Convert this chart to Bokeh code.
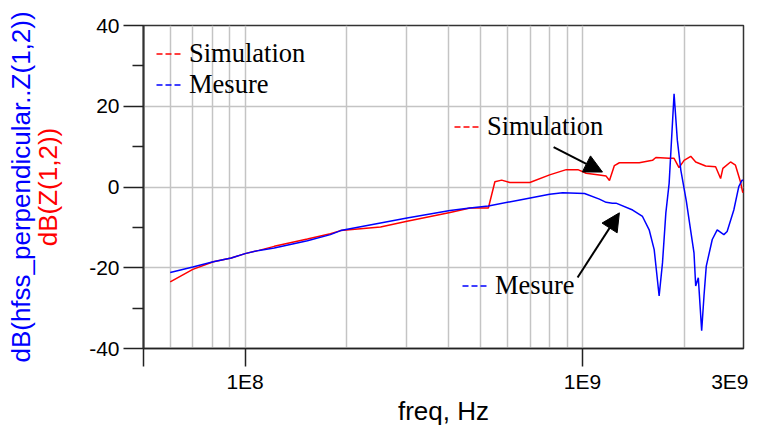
from bokeh.plotting import figure
from bokeh.models import (FixedTicker, LinearAxis, Legend, LegendItem, Arrow,
                          NormalHead, Range1d)
from bokeh.embed import file_html
from bokeh.resources import INLINE

# ---------------- data ----------------
sim_freq = [6.0e7, 7.0e7, 8.05e7, 9.1e7, 1.0e8, 1.1e8, 1.22e8, 1.53e8, 1.79e8, 1.92e8,
            2.52e8, 3.02e8, 4.05e8, 4.64e8, 5.26e8, 5.50e8, 5.76e8, 6.09e8, 6.98e8, 7.99e8,
            8.95e8, 9.69e8, 1.025e9, 1.122e9, 1.175e9, 1.202e9, 1.243e9, 1.286e9, 1.473e9, 1.612e9,
            1.65e9, 1.806e9, 1.868e9, 1.932e9, 2.0e9, 2.093e9, 2.165e9, 2.317e9, 2.48e9, 2.566e9,
            2.606e9, 2.746e9, 2.84e9, 2.938e9, 2.985e9, 3.0e9]
sim_db = [-23.5, -20.4, -18.5, -17.6, -16.5, -15.7, -14.7, -12.9, -11.6, -10.8,
          -9.9, -8.5, -6.3, -5.2, -5.2, 1.3, 1.7, 1.1, 1.1, 3.0,
          4.3, 4.3, 3.4, 3.0, 2.7, 1.6, 5.3, 6.0, 6.0, 6.6,
          7.3, 7.1, 7.1, 4.8, 6.6, 7.6, 6.2, 5.2, 5.0, 2.1,
          4.6, 6.2, 5.4, 1.3, -1.4, -1.0]

mes_freq = [6.0e7, 7.0e7, 8.05e7, 9.1e7, 1.0e8, 1.1e8, 1.22e8, 1.53e8, 1.79e8, 1.92e8,
            2.52e8, 3.02e8, 4.05e8, 4.64e8, 5.26e8, 6.52e8, 7.99e8, 8.73e8, 1.014e9, 1.122e9,
            1.175e9, 1.226e9, 1.257e9, 1.408e9, 1.506e9, 1.576e9, 1.631e9, 1.687e9, 1.726e9, 1.766e9,
            1.806e9, 1.868e9, 1.91e9, 1.956e9, 2.031e9, 2.069e9, 2.14e9, 2.165e9, 2.204e9, 2.255e9,
            2.291e9, 2.327e9, 2.424e9, 2.507e9, 2.624e9, 2.683e9, 2.808e9, 2.905e9, 2.971e9, 3.0e9]
mes_db = [-21.2, -19.8, -18.5, -17.6, -16.5, -15.7, -15.1, -13.3, -11.8, -10.8,
          -8.9, -7.7, -5.8, -5.2, -4.7, -3.2, -1.8, -1.4, -1.6, -3.0,
          -3.8, -4.0, -4.0, -5.7, -7.3, -10.6, -15.5, -27.0, -18.8, -6.4,
          0.9, 23.1, 11.6, 4.2, -3.5, -8.1, -16.3, -24.5, -22.5, -35.6,
          -27.0, -19.6, -13.0, -10.6, -11.8, -11.0, -5.7, 0.1, 1.7, 1.7]

x_range_lim = [5e7, 3e9]
y_range_lim = [-40, 40]
x_label_ticks = [1e8, 1e9, 3e9]
x_tick_labels = {1e8: "1E8", 1e9: "1E9", 3e9: "3E9"}
x_tick_marks = [5e7, 1e8, 1e9]
x_grid = [6e7, 7e7, 8e7, 9e7, 1e8, 2e8, 3e8, 4e8, 5e8, 6e8, 7e8, 8e8, 9e8, 1e9, 2e9]
y_ticks = [-40, -20, 0, 20, 40]
y_tick_labels = {-40: "-40", -20: "-20", 0: "0", 20: "20", 40: "40"}
y_minor = [-30, -10, 10, 30]
y_grid = [-20, 0, 20]

x_title = "freq, Hz"
y_title_red = "dB(Z(1,2))"
y_title_blue = "dB(hfss_perpendicular..Z(1,2))"

sim_name = "Simulation"
mes_name = "Mesure"
# annotation arrows (start -> tip), data units
sim_arrow = [8.21e8, 9.85, 1.146e9, 3.7]
mes_arrow = [9.67e8, -22.4, 1.286e9, -6.4]

SANS = "Liberation Sans"
SERIF = "Liberation Serif"
RED = "#ff0000"
BLUE = "#0000ff"
NAN = float("nan")

p = figure(width=748, height=428, x_axis_type="log",
           x_range=Range1d(*x_range_lim), y_range=Range1d(*y_range_lim),
           output_backend="svg", toolbar_location=None,
           min_border_left=143, min_border_right=5, min_border_top=25, min_border_bottom=78)

p.background_fill_color = "white"
p.border_fill_color = "white"
p.outline_line_color = "#333333"
p.outline_line_width = 1.5

# grids
p.xgrid.ticker = FixedTicker(ticks=x_grid)
p.xgrid.grid_line_color = "#c4c4c4"
p.xgrid.grid_line_width = 1.5
p.ygrid.ticker = FixedTicker(ticks=y_grid)
p.ygrid.grid_line_color = "#c4c4c4"
p.ygrid.grid_line_width = 1.5

# x axis: labels on major ticks (no marks), tick marks drawn as minor ticks
xa = p.xaxis[0]
xa.ticker = FixedTicker(ticks=x_label_ticks, minor_ticks=x_tick_marks)
xa.major_label_overrides = x_tick_labels
xa.major_tick_out = 0
xa.major_tick_in = 0
xa.minor_tick_out = 18
xa.minor_tick_in = 0
xa.minor_tick_line_color = "#222222"
xa.minor_tick_line_width = 1.5
xa.axis_line_color = "#222222"
xa.axis_line_width = 1.5
xa.major_label_text_font = SANS
xa.major_label_text_font_size = "21px"
xa.major_label_text_color = "black"
xa.major_label_standoff = 3
xa.axis_label = x_title
xa.axis_label_text_font = SANS
xa.axis_label_text_font_size = "26px"
xa.axis_label_text_font_style = "normal"
xa.axis_label_text_color = "black"
xa.axis_label_standoff = 0

# y axis (main, red title)
ya = p.yaxis[0]
ya.ticker = FixedTicker(ticks=y_ticks, minor_ticks=y_minor)
ya.major_label_overrides = y_tick_labels
ya.major_tick_out = 20
ya.major_tick_in = 0
ya.minor_tick_out = 11
ya.minor_tick_in = 0
ya.major_tick_line_color = "#222222"
ya.minor_tick_line_color = "#222222"
ya.major_tick_line_width = 1.5
ya.minor_tick_line_width = 1.5
ya.axis_line_color = "#333333"
ya.axis_line_width = 2
ya.major_label_text_font = SANS
ya.major_label_text_font_size = "21px"
ya.major_label_text_color = "black"
ya.major_label_standoff = 4
ya.axis_label = y_title_red
ya.axis_label_text_font = SANS
ya.axis_label_text_font_size = "26px"
ya.axis_label_text_font_style = "normal"
ya.axis_label_text_color = RED
ya.axis_label_standoff = 23

# outer y axis (blue title only)
ya2 = LinearAxis(ticker=FixedTicker(ticks=[]), axis_label=y_title_blue,
                 axis_label_text_font=SANS, axis_label_text_font_size="26px",
                 axis_label_text_font_style="normal", axis_label_text_color=BLUE,
                 axis_line_color=None, major_tick_line_color=None, minor_tick_line_color=None,
                 major_tick_out=0, minor_tick_out=0, axis_label_standoff=-5,
                 major_label_text_font_size="0px")
p.add_layout(ya2, "left")

# curves
p.line(sim_freq, sim_db, line_color=RED, line_width=1.5)
p.line(mes_freq, mes_db, line_color=BLUE, line_width=1.5)

# legend glyph renderers (dashed, nothing visible in the plot)
r_sim = p.line(x=[NAN], y=[NAN], line_color=RED, line_width=1.5, line_dash="6 3")
r_mes = p.line(x=[NAN], y=[NAN], line_color=BLUE, line_width=1.5, line_dash="6 3")


def make_legend(items, loc, margin=0):
    return Legend(items=items, location=loc, padding=0, margin=margin, spacing=0,
                  glyph_width=25, glyph_height=29, label_height=29, label_standoff=8,
                  label_text_font=SERIF, label_text_font_size="26.5px", label_text_color="black",
                  border_line_color=None, background_fill_alpha=0)


p.add_layout(make_legend([LegendItem(label=sim_name, renderers=[r_sim]),
                          LegendItem(label=mes_name, renderers=[r_mes])], "top_left", 13), "center")
p.add_layout(make_legend([LegendItem(label=sim_name, renderers=[r_sim])], (311, 206)), "center")
p.add_layout(make_legend([LegendItem(label=mes_name, renderers=[r_mes])], (319, 47)), "center")

# arrows
for a in (sim_arrow, mes_arrow):
    p.add_layout(Arrow(x_start=a[0], y_start=a[1], x_end=a[2], y_end=a[3],
                       line_color="black", line_width=2,
                       end=NormalHead(size=18, fill_color="black", line_color="black")))

open("out.html", "w").write(file_html(p, INLINE))
